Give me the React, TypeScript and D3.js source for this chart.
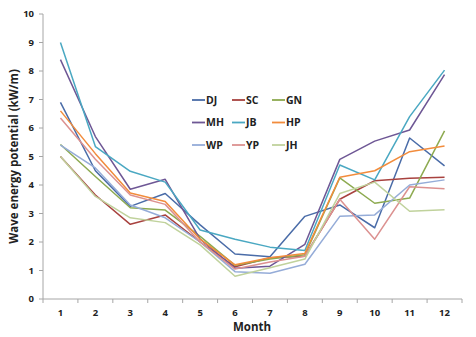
import React from "react";
import * as d3 from "d3";

const months = [1, 2, 3, 4, 5, 6, 7, 8, 9, 10, 11, 12];
const yTicks = [0, 1, 2, 3, 4, 5, 6, 7, 8, 9, 10];
const seriesNames = ["DJ", "SC", "GN", "MH", "JB", "HP", "WP", "YP", "JH"];
const seriesColors = ["#4A6CA8", "#A8423F", "#8DAA50", "#6E5795", "#4AA8C2", "#F28C3C", "#95ACD8", "#DC9190", "#C0D29C"];

const DJ = [6.9, 4.5, 3.25, 3.7, 2.6, 1.58, 1.48, 2.9, 3.3, 2.5, 5.65, 4.67];
const SC = [5.0, 3.65, 2.62, 2.95, 2.0, 1.13, 1.45, 1.5, 3.5, 4.15, 4.24, 4.27];
const GN = [5.42, 4.3, 3.2, 3.12, 2.2, 1.18, 1.4, 1.55, 4.25, 3.36, 3.54, 5.9];
const MH = [8.4, 5.7, 3.85, 4.2, 2.1, 1.08, 1.15, 1.92, 4.9, 5.54, 5.93, 7.87];
const JB = [9.0, 5.35, 4.48, 4.1, 2.42, 2.1, 1.82, 1.7, 4.7, 4.18, 6.4, 8.03];
const HP = [6.6, 5.1, 3.72, 3.42, 2.1, 1.2, 1.45, 1.6, 4.27, 4.5, 5.17, 5.37];
const WP = [5.4, 4.6, 3.3, 2.85, 2.0, 0.96, 0.9, 1.22, 2.9, 2.95, 4.0, 4.18];
const YP = [6.35, 4.9, 3.65, 3.32, 2.0, 1.05, 1.3, 1.5, 3.5, 2.1, 3.94, 3.87];
const JH = [5.0, 3.6, 2.85, 2.68, 1.9, 0.8, 1.1, 1.4, 3.7, 4.1, 3.08, 3.13];

const seriesValues = [DJ, SC, GN, MH, JB, HP, WP, YP, JH];

const W = 476;
const H = 337;
const FONT = "'Open Sans', 'Liberation Sans', sans-serif";

export default function App() {
  const x = d3.scaleBand<number>().domain(months).range([43, 462]);
  const y = d3.scaleLinear().domain([0, 10]).range([299, 14]);
  const cx = (m: number) => (x(m) as number) + x.bandwidth() / 2;
  const line = d3
    .line<number>()
    .x((_, i) => cx(months[i]))
    .y((v) => y(v));

  const axisColor = "#A6A6A6";
  const bounds = months.map((m) => x(m) as number).concat([462]);

  return (
    <svg
      width={W}
      height={H}
      style={{ position: "absolute", left: 0, top: 0, display: "block", background: "#fff" }}
    >
      {/* y axis */}
      <line x1={43} x2={43} y1={y(10)} y2={y(0)} stroke={axisColor} strokeWidth={1} />
      {yTicks.map((t) => (
        <g key={t}>
          <line x1={39} x2={43} y1={y(t)} y2={y(t)} stroke={axisColor} />
          <text
            x={34}
            y={y(t)}
            dy="0.35em"
            textAnchor="end"
            fontFamily={FONT}
            fontSize={9.5}
            fontWeight={700}
            fill="#222"
          >
            {t}
          </text>
        </g>
      ))}
      {/* x axis */}
      <line x1={43} x2={462} y1={y(0)} y2={y(0)} stroke={axisColor} strokeWidth={1} />
      {bounds.map((b, i) => (
        <line key={i} x1={b} x2={b} y1={y(0)} y2={y(0) + 4} stroke={axisColor} />
      ))}
      {months.map((m) => (
        <text
          key={m}
          x={cx(m)}
          y={313}
          dy="0.35em"
          textAnchor="middle"
          fontFamily={FONT}
          fontSize={9.5}
          fontWeight={700}
          fill="#222"
        >
          {m}
        </text>
      ))}
      <text
        x={252}
        y={331}
        textAnchor="middle"
        fontFamily={FONT}
        fontSize={11.5}
        fontWeight={700}
        fill="#222"
      >
        Month
      </text>
      <text
        transform={`translate(14, ${(y(0) + y(10)) / 2}) rotate(-90)`}
        textAnchor="middle"
        dy="0.35em"
        fontFamily={FONT}
        fontSize={11.5}
        fontWeight={700}
        fill="#222"
      >
        Wave energy potential (kW/m)
      </text>

      {/* lines */}
      {seriesValues.map((vals, i) => (
        <path
          key={seriesNames[i]}
          d={line(vals) || ""}
          fill="none"
          stroke={seriesColors[i]}
          strokeWidth={1.5}
          strokeLinejoin="round"
        />
      ))}

      {/* legend */}
      {seriesNames.map((name, i) => {
        const col = i % 3;
        const row = Math.floor(i / 3);
        const lx = 192 + col * 40;
        const ly = 100 + row * 22.5;
        return (
          <g key={name}>
            <line x1={lx} x2={lx + 13} y1={ly} y2={ly} stroke={seriesColors[i]} strokeWidth={1.8} />
            <text
              x={lx + 14}
              y={ly}
              dy="0.35em"
              fontFamily={FONT}
              fontSize={10.5}
              fontWeight={700}
              fill="#222"
            >
              {name}
            </text>
          </g>
        );
      })}
    </svg>
  );
}
